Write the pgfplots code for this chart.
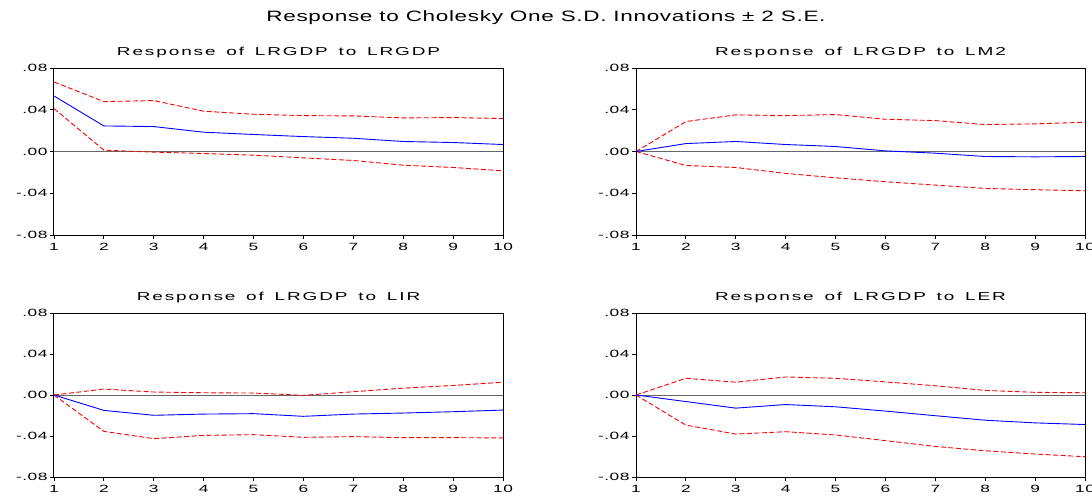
\documentclass[border=0pt]{standalone}
\usepackage{fontspec}
\setmainfont{Liberation Sans}
\newfontfamily\subfont[LetterSpace=10,WordSpace=1.5]{Liberation Sans}
\newfontfamily\tickfont[LetterSpace=3]{Liberation Sans}
\newfontfamily\mainttlfont[LetterSpace=3]{Liberation Sans}
\usepackage{graphicx}
\usepackage{pgfplots}
\pgfplotsset{compat=1.18}
\newcommand\sx[1]{\scalebox{1.65}[1]{#1}}

\pgfplotstableread{
x resp up lo
1 0.0532 0.0666 0.0411
2 0.0245 0.0478 0.0013
3 0.0239 0.0488 -0.0006
4 0.0185 0.0386 -0.0019
5 0.0163 0.0357 -0.0035
6 0.0143 0.0344 -0.0061
7 0.0127 0.0341 -0.0086
8 0.0096 0.0322 -0.0131
9 0.0086 0.0325 -0.0153
10 0.0067 0.0316 -0.0185
}\tabA
\pgfplotstableread{
x resp up lo
1 0 0 0
2 0.0076 0.0287 -0.0134
3 0.0096 0.0351 -0.0153
4 0.0067 0.0344 -0.0210
5 0.0048 0.0354 -0.0252
6 0.0006 0.0309 -0.0290
7 -0.0016 0.0296 -0.0322
8 -0.0048 0.0258 -0.0354
9 -0.0051 0.0265 -0.0366
10 -0.0048 0.0280 -0.0376
}\tabB
\pgfplotstableread{
x resp up lo
1 0 0 0
2 -0.0150 0.0058 -0.0355
3 -0.0198 0.0029 -0.0426
4 -0.0186 0.0022 -0.0394
5 -0.0182 0.0019 -0.0387
6 -0.0208 -0.0003 -0.0413
7 -0.0186 0.0032 -0.0406
8 -0.0176 0.0067 -0.0416
9 -0.0163 0.0093 -0.0416
10 -0.0147 0.0125 -0.0419
}\tabC
\pgfplotstableread{
x resp up lo
1 0 0 0
2 -0.0064 0.0163 -0.0294
3 -0.0128 0.0125 -0.0381
4 -0.0093 0.0176 -0.0358
5 -0.0115 0.0163 -0.0390
6 -0.0157 0.0128 -0.0445
7 -0.0202 0.0090 -0.0502
8 -0.0246 0.0045 -0.0544
9 -0.0272 0.0026 -0.0576
10 -0.0288 0.0022 -0.0602
}\tabD

\pgfplotsset{
  irf/.style={
    scale only axis, width=449pt, anchor=south west,
    xmin=1, xmax=10, ymin=-0.08, ymax=0.08,
    xtick={1,2,...,10},
    xticklabels={\sx{1},\sx{2},\sx{3},\sx{4},\sx{5},\sx{6},\sx{7},\sx{8},\sx{9},\sx{10}},
    ytick={-0.08,-0.04,0,0.04,0.08},
    yticklabels={\sx{-.08},\sx{-.04},\sx{.00},\sx{.04},\sx{.08}},
    scaled y ticks=false, scaled x ticks=false,
    /pgf/number format/assume math mode=true,
    tick align=outside, tick pos=left,
    major tick length=4pt,
    axis line style={black, line width=1pt},
    every tick/.style={black, line width=0.8pt},
    tick label style={font=\tickfont\fontsize{10.5}{12}\selectfont},
    xticklabel style={yshift=-1pt},
    yticklabel style={xshift=1pt},
    title style={font=\subfont\fontsize{11.5}{13}\selectfont, yshift=1pt},
    clip=false,
  },
  zero/.style={color=black!60, line width=0.9pt},
  mid/.style={blue, line width=0.9pt},
  band/.style={red, line width=0.9pt, dash pattern=on 5pt off 2.5pt},
}

\begin{document}
\begin{tikzpicture}
\path[use as bounding box] (0,0) rectangle (1092pt,496pt);
\begin{scope}
\clip (0,0) rectangle (1092pt,496pt);
\node[font=\mainttlfont\fontsize{15}{18}\selectfont] at (546pt,478pt) {\scalebox{1.5}[1]{Response to Cholesky One S.D. Innovations ± 2 S.E.}};

\begin{axis}[irf, at={(54pt,261pt)}, height=167pt, title={\sx{Response of LRGDP to LRGDP}}]
\addplot[zero] coordinates {(1,0) (10,0)};
\addplot[band] table[x=x,y=up] {\tabA};
\addplot[band] table[x=x,y=lo] {\tabA};
\addplot[mid] table[x=x,y=resp] {\tabA};
\end{axis}

\begin{axis}[irf, at={(636pt,261pt)}, height=167pt, title={\sx{Response of LRGDP to LM2}}]
\addplot[zero] coordinates {(1,0) (10,0)};
\addplot[band] table[x=x,y=up] {\tabB};
\addplot[band] table[x=x,y=lo] {\tabB};
\addplot[mid] table[x=x,y=resp] {\tabB};
\end{axis}

\begin{axis}[irf, at={(54pt,19pt)}, height=164pt, title={\sx{Response of LRGDP to LIR}}]
\addplot[zero] coordinates {(1,0) (10,0)};
\addplot[band] table[x=x,y=up] {\tabC};
\addplot[band] table[x=x,y=lo] {\tabC};
\addplot[mid] table[x=x,y=resp] {\tabC};
\end{axis}

\begin{axis}[irf, at={(636pt,19pt)}, height=164pt, title={\sx{Response of LRGDP to LER}}]
\addplot[zero] coordinates {(1,0) (10,0)};
\addplot[band] table[x=x,y=up] {\tabD};
\addplot[band] table[x=x,y=lo] {\tabD};
\addplot[mid] table[x=x,y=resp] {\tabD};
\end{axis}
\end{scope}
\end{tikzpicture}
\end{document}
